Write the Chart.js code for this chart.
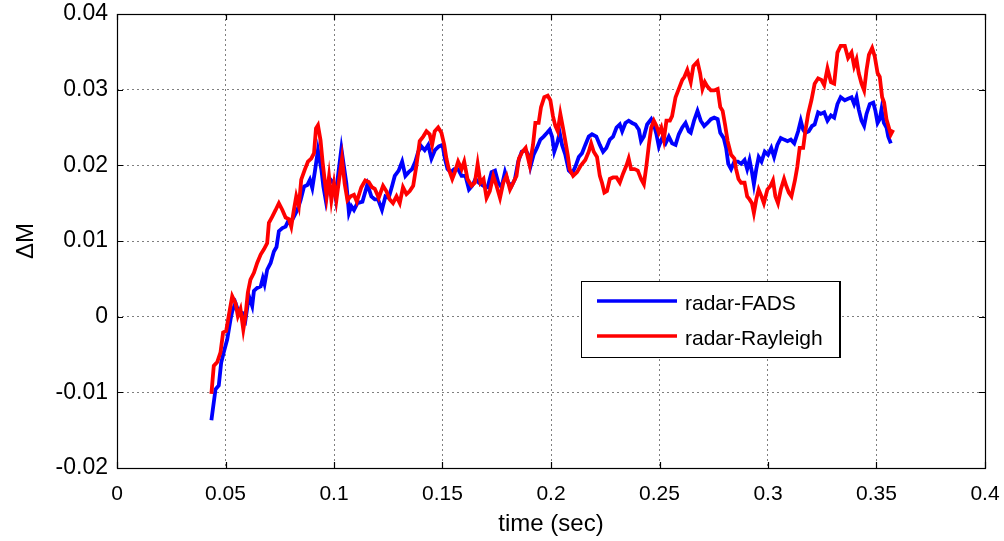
<!DOCTYPE html>
<html><head><meta charset="utf-8">
<script src="https://cdn.jsdelivr.net/npm/chart.js@4.4.0/dist/chart.umd.min.js"></script>
<style>html,body{margin:0;padding:0;background:#fff;} #wrap{width:1004px;height:541px;position:relative;}</style>
</head><body><div id="wrap"><canvas id="c" width="1004" height="541"></canvas></div>
<script>
const fadsTime = [0.0435,0.0454,0.0469,0.0480,0.0492,0.0508,0.0523,0.0531,0.0546,0.0562,0.0577,0.0592,0.0608,0.0623,0.0631,0.0646,0.0662,0.0672,0.0680,0.0692,0.0708,0.0723,0.0735,0.0746,0.0762,0.0777,0.0788,0.0800,0.0815,0.0831,0.0846,0.0862,0.0877,0.0889,0.0900,0.0912,0.0926,0.0942,0.0951,0.0962,0.0972,0.0985,0.0997,0.1008,0.1018,0.1034,0.1046,0.1057,0.1069,0.1080,0.1092,0.1108,0.1131,0.1154,0.1172,0.1188,0.1203,0.1221,0.1237,0.1252,0.1268,0.1280,0.1298,0.1314,0.1329,0.1344,0.1360,0.1375,0.1388,0.1403,0.1418,0.1434,0.1449,0.1465,0.1483,0.1500,0.1511,0.1523,0.1538,0.1554,0.1572,0.1588,0.1606,0.1622,0.1637,0.1652,0.1668,0.1688,0.1708,0.1726,0.1742,0.1757,0.1772,0.1788,0.1803,0.1819,0.1834,0.1849,0.1865,0.1883,0.1895,0.1905,0.1920,0.1935,0.1951,0.1966,0.1982,0.1994,0.2005,0.2015,0.2028,0.2040,0.2051,0.2066,0.2082,0.2097,0.2112,0.2128,0.2143,0.2158,0.2174,0.2189,0.2209,0.2225,0.2240,0.2255,0.2271,0.2286,0.2302,0.2317,0.2328,0.2343,0.2358,0.2374,0.2389,0.2405,0.2415,0.2428,0.2443,0.2462,0.2474,0.2486,0.2497,0.2512,0.2528,0.2543,0.2558,0.2574,0.2589,0.2605,0.2620,0.2635,0.2644,0.2659,0.2675,0.2690,0.2706,0.2721,0.2737,0.2752,0.2768,0.2780,0.2796,0.2807,0.2817,0.2830,0.2845,0.2861,0.2876,0.2892,0.2904,0.2915,0.2926,0.2935,0.2946,0.2957,0.2970,0.2985,0.3000,0.3015,0.3028,0.3043,0.3059,0.3074,0.3090,0.3105,0.3121,0.3139,0.3151,0.3162,0.3172,0.3188,0.3203,0.3215,0.3231,0.3243,0.3259,0.3274,0.3290,0.3305,0.3320,0.3335,0.3354,0.3369,0.3385,0.3397,0.3408,0.3418,0.3431,0.3443,0.3454,0.3469,0.3485,0.3495,0.3505,0.3515,0.3523,0.3534,0.3546,0.3554,0.3566];
const fadsValue = [-0.0137,-0.0096,-0.0091,-0.0061,-0.0047,-0.0030,-0.0004,0.0007,0.0018,0.0005,0.0005,-0.0004,0.0027,0.0014,0.0034,0.0038,0.0040,0.0051,0.0043,0.0062,0.0071,0.0086,0.0092,0.0113,0.0117,0.0119,0.0126,0.0124,0.0132,0.0141,0.0154,0.0172,0.0174,0.0181,0.0170,0.0192,0.0220,0.0194,0.0172,0.0154,0.0172,0.0181,0.0177,0.0157,0.0185,0.0222,0.0198,0.0176,0.0137,0.0146,0.0141,0.0150,0.0152,0.0175,0.0159,0.0155,0.0155,0.0141,0.0159,0.0157,0.0173,0.0186,0.0193,0.0205,0.0186,0.0191,0.0195,0.0205,0.0218,0.0225,0.0220,0.0227,0.0209,0.0220,0.0225,0.0227,0.0209,0.0195,0.0191,0.0195,0.0195,0.0186,0.0186,0.0168,0.0173,0.0182,0.0177,0.0173,0.0171,0.0191,0.0193,0.0177,0.0171,0.0191,0.0177,0.0173,0.0182,0.0205,0.0218,0.0220,0.0214,0.0198,0.0214,0.0223,0.0234,0.0238,0.0243,0.0247,0.0238,0.0218,0.0229,0.0243,0.0227,0.0214,0.0193,0.0189,0.0198,0.0211,0.0216,0.0227,0.0238,0.0241,0.0238,0.0227,0.0218,0.0223,0.0234,0.0238,0.0250,0.0254,0.0245,0.0256,0.0259,0.0256,0.0254,0.0247,0.0232,0.0238,0.0254,0.0261,0.0254,0.0241,0.0225,0.0236,0.0229,0.0238,0.0229,0.0227,0.0241,0.0250,0.0256,0.0245,0.0243,0.0259,0.0272,0.0259,0.0252,0.0256,0.0261,0.0263,0.0261,0.0243,0.0236,0.0223,0.0202,0.0195,0.0205,0.0205,0.0202,0.0207,0.0195,0.0207,0.0191,0.0175,0.0195,0.0211,0.0205,0.0218,0.0214,0.0223,0.0211,0.0227,0.0236,0.0234,0.0232,0.0234,0.0229,0.0245,0.0259,0.0247,0.0243,0.0245,0.0252,0.0254,0.0270,0.0268,0.0270,0.0259,0.0266,0.0263,0.0281,0.0290,0.0286,0.0288,0.0290,0.0281,0.0290,0.0274,0.0259,0.0252,0.0268,0.0281,0.0283,0.0272,0.0256,0.0261,0.0274,0.0256,0.0250,0.0238,0.0229];
const rayleighTime = [0.0435,0.0446,0.0462,0.0477,0.0489,0.0503,0.0515,0.0531,0.0546,0.0557,0.0569,0.0582,0.0592,0.0603,0.0615,0.0631,0.0646,0.0662,0.0677,0.0692,0.0700,0.0715,0.0731,0.0746,0.0762,0.0777,0.0792,0.0803,0.0815,0.0826,0.0838,0.0849,0.0865,0.0880,0.0895,0.0908,0.0917,0.0926,0.0938,0.0948,0.0957,0.0966,0.0977,0.0988,0.1000,0.1011,0.1023,0.1037,0.1049,0.1062,0.1077,0.1092,0.1105,0.1126,0.1144,0.1160,0.1175,0.1188,0.1206,0.1226,0.1241,0.1257,0.1272,0.1288,0.1303,0.1318,0.1334,0.1349,0.1365,0.1380,0.1395,0.1411,0.1426,0.1441,0.1452,0.1464,0.1480,0.1495,0.1508,0.1518,0.1529,0.1545,0.1557,0.1572,0.1588,0.1600,0.1615,0.1634,0.1649,0.1662,0.1675,0.1689,0.1703,0.1718,0.1734,0.1749,0.1765,0.1780,0.1795,0.1811,0.1826,0.1841,0.1852,0.1868,0.1883,0.1892,0.1902,0.1917,0.1928,0.1943,0.1954,0.1969,0.1985,0.1997,0.2009,0.2020,0.2031,0.2043,0.2055,0.2066,0.2077,0.2086,0.2102,0.2120,0.2138,0.2158,0.2174,0.2185,0.2197,0.2212,0.2225,0.2235,0.2246,0.2258,0.2271,0.2286,0.2302,0.2317,0.2332,0.2348,0.2358,0.2369,0.2385,0.2400,0.2415,0.2428,0.2440,0.2451,0.2462,0.2474,0.2486,0.2497,0.2508,0.2520,0.2532,0.2548,0.2558,0.2574,0.2589,0.2605,0.2615,0.2628,0.2644,0.2656,0.2675,0.2687,0.2698,0.2709,0.2721,0.2737,0.2752,0.2768,0.2780,0.2791,0.2802,0.2814,0.2830,0.2845,0.2853,0.2864,0.2876,0.2892,0.2904,0.2915,0.2926,0.2935,0.2946,0.2957,0.2970,0.2981,0.2997,0.3012,0.3023,0.3034,0.3046,0.3059,0.3074,0.3084,0.3096,0.3108,0.3124,0.3135,0.3146,0.3162,0.3172,0.3185,0.3200,0.3215,0.3231,0.3246,0.3259,0.3274,0.3290,0.3305,0.3320,0.3335,0.3354,0.3369,0.3385,0.3397,0.3408,0.3418,0.3431,0.3443,0.3454,0.3465,0.3480,0.3492,0.3505,0.3515,0.3526,0.3535,0.3546,0.3557,0.3566,0.3577];
const rayleighValue = [-0.0102,-0.0065,-0.0060,-0.0047,-0.0021,-0.0019,0.0001,0.0027,0.0018,0.0001,0.0010,-0.0017,0.0001,0.0032,0.0049,0.0058,0.0071,0.0082,0.0089,0.0097,0.0124,0.0132,0.0141,0.0150,0.0141,0.0131,0.0129,0.0119,0.0141,0.0159,0.0146,0.0181,0.0194,0.0205,0.0209,0.0216,0.0249,0.0253,0.0233,0.0203,0.0181,0.0159,0.0185,0.0154,0.0176,0.0154,0.0180,0.0209,0.0176,0.0154,0.0159,0.0161,0.0152,0.0171,0.0180,0.0178,0.0171,0.0169,0.0157,0.0173,0.0166,0.0155,0.0150,0.0159,0.0150,0.0171,0.0162,0.0166,0.0173,0.0200,0.0232,0.0238,0.0245,0.0241,0.0227,0.0245,0.0250,0.0243,0.0227,0.0209,0.0195,0.0182,0.0191,0.0205,0.0195,0.0205,0.0182,0.0173,0.0177,0.0202,0.0177,0.0182,0.0157,0.0166,0.0186,0.0173,0.0157,0.0177,0.0186,0.0168,0.0177,0.0186,0.0209,0.0218,0.0223,0.0212,0.0200,0.0227,0.0256,0.0256,0.0277,0.0290,0.0292,0.0286,0.0265,0.0252,0.0245,0.0268,0.0250,0.0232,0.0214,0.0195,0.0186,0.0191,0.0200,0.0207,0.0218,0.0229,0.0218,0.0211,0.0186,0.0177,0.0164,0.0166,0.0182,0.0184,0.0184,0.0177,0.0189,0.0200,0.0209,0.0195,0.0195,0.0193,0.0182,0.0175,0.0200,0.0227,0.0250,0.0259,0.0252,0.0243,0.0250,0.0234,0.0259,0.0259,0.0265,0.0290,0.0301,0.0313,0.0317,0.0326,0.0310,0.0331,0.0337,0.0322,0.0301,0.0310,0.0304,0.0299,0.0299,0.0301,0.0277,0.0272,0.0254,0.0232,0.0214,0.0209,0.0195,0.0182,0.0177,0.0177,0.0159,0.0155,0.0150,0.0137,0.0155,0.0168,0.0159,0.0150,0.0168,0.0173,0.0180,0.0159,0.0150,0.0168,0.0182,0.0173,0.0164,0.0159,0.0180,0.0198,0.0223,0.0223,0.0245,0.0268,0.0286,0.0308,0.0315,0.0313,0.0306,0.0328,0.0310,0.0308,0.0349,0.0358,0.0358,0.0342,0.0349,0.0331,0.0340,0.0322,0.0308,0.0299,0.0326,0.0346,0.0355,0.0344,0.0322,0.0317,0.0290,0.0283,0.0261,0.0250,0.0241,0.0247];
const xTickValues = [0,0.05,0.1,0.15,0.2,0.25,0.3,0.35,0.4];
const xTickLabels = ['0','0.05','0.1','0.15','0.2','0.25','0.3','0.35','0.4'];
const yTickValues = [-0.02,-0.01,0,0.01,0.02,0.03,0.04];
const yTickLabels = ['-0.02','-0.01','0','0.01','0.02','0.03','0.04'];
const seriesNames = ['radar-FADS','radar-Rayleigh'];
const seriesColors = ['#0000FF','#FF0000'];
const xTitle = 'time (sec)';
const yTitle = '\u0394M';

const FONT = "'Liberation Sans', Arial, sans-serif";
function pts(t, v){ return t.map((x,i)=>({x:x, y:v[i]})); }

const boxPlugin = {
  id:'matlabBox',
  afterDraw(chart){
    const ctx = chart.ctx, a = chart.chartArea;
    const xs = chart.scales.x, ys = chart.scales.y;
    ctx.save();
    ctx.strokeStyle = '#000'; ctx.lineWidth = 1.2; ctx.setLineDash([]);
    ctx.strokeRect(a.left+0.5, a.top+0.5, a.right-a.left, a.bottom-a.top);
    const L = 6;
    ctx.beginPath();
    xTickValues.forEach(v=>{
      const px = Math.round(xs.getPixelForValue(v))+0.5;
      ctx.moveTo(px, a.bottom); ctx.lineTo(px, a.bottom-L);
      ctx.moveTo(px, a.top); ctx.lineTo(px, a.top+L);
    });
    yTickValues.forEach(v=>{
      const py = Math.round(ys.getPixelForValue(v))+0.5;
      ctx.moveTo(a.left, py); ctx.lineTo(a.left+L, py);
      ctx.moveTo(a.right, py); ctx.lineTo(a.right-L, py);
    });
    ctx.stroke();
    // legend
    const lx = 581, ly = 281, lw = 258, lh = 76;
    ctx.fillStyle = '#fff';
    ctx.fillRect(lx, ly, lw, lh);
    ctx.strokeStyle = '#000'; ctx.lineWidth = 1;
    ctx.strokeRect(lx+0.5, ly+0.5, lw, lh);
    ctx.lineWidth = 2;
    ctx.beginPath(); ctx.moveTo(lx+lw+1, ly); ctx.lineTo(lx+lw+1, ly+lh+1); ctx.stroke();
    chart.data.datasets.forEach((ds,i)=>{
      const y = ly + 20 + i*35;
      ctx.strokeStyle = ds.borderColor; ctx.lineWidth = 3.5;
      ctx.beginPath(); ctx.moveTo(lx+16, y); ctx.lineTo(lx+96, y); ctx.stroke();
      ctx.fillStyle = '#000'; ctx.font = '21px ' + FONT;
      ctx.textBaseline = 'middle'; ctx.textAlign = 'left';
      ctx.fillText(ds.label, lx+104, y+3);
    });
    ctx.restore();
  }
};

new Chart(document.getElementById('c'), {
  type:'line',
  data:{ datasets:[
    {label:seriesNames[0], data:pts(fadsTime,fadsValue), borderColor:seriesColors[0], borderWidth:3.8, pointRadius:0, tension:0, fill:false, order:2},
    {label:seriesNames[1], data:pts(rayleighTime,rayleighValue), borderColor:seriesColors[1], borderWidth:3.8, pointRadius:0, tension:0, fill:false, order:1}
  ]},
  options:{
    responsive:false, animation:false, devicePixelRatio:1,
    layout:{padding:{left:0,right:19,top:14,bottom:0}},
    plugins:{legend:{display:false}, tooltip:{enabled:false}},
    scales:{
      x:{ type:'linear', min:0, max:0.4,
        afterBuildTicks(s){ s.ticks = xTickValues.map(v=>({value:v})); },
        afterFit(s){ s.height = 73; s.paddingLeft = 0; s.paddingRight = 0; },
        ticks:{ callback:(v,i)=>xTickLabels[i], color:'#000', font:{family:FONT,size:21}, padding:14, maxRotation:0, autoSkip:false },
        grid:{ color:'rgba(0,0,0,0.5)', lineWidth:1, drawTicks:false },
        border:{ display:false, dash:[2,3] },
        title:{ display:true, text:xTitle, color:'#000', font:{family:FONT,size:24}, padding:{top:0,bottom:2} }
      },
      y:{ type:'linear', min:-0.02, max:0.04,
        afterBuildTicks(s){ s.ticks = yTickValues.map(v=>({value:v})); },
        afterFit(s){ s.width = 117; s.paddingTop = 0; s.paddingBottom = 0; },
        ticks:{ callback:(v,i)=>yTickLabels[i], color:'#000', font:{family:FONT,size:23}, padding:9, autoSkip:false },
        grid:{ color:'rgba(0,0,0,0.5)', lineWidth:1, drawTicks:false },
        border:{ display:false, dash:[2,3] },
        title:{ display:true, text:yTitle, color:'#000', font:{family:FONT,size:24}, padding:{top:12,bottom:0} }
      }
    }
  },
  plugins:[boxPlugin]
});
</script></body></html>
